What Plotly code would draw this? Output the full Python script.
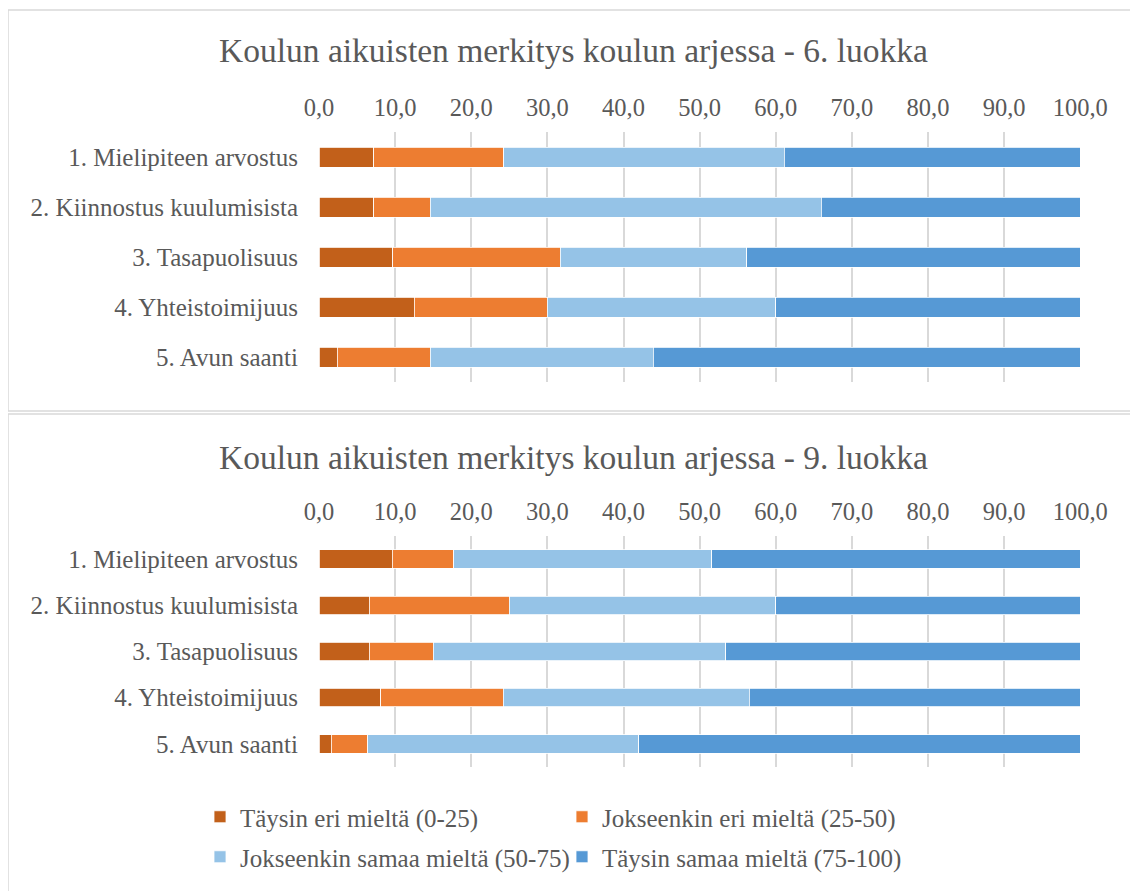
import plotly.graph_objects as go

W, H = 1138, 891

kategoriat = ["1. Mielipiteen arvostus", "2. Kiinnostus kuulumisista", "3. Tasapuolisuus",
              "4. Yhteistoimijuus", "5. Avun saanti"]
sarjat = ["Täysin eri mieltä (0-25)", "Jokseenkin eri mieltä (25-50)",
          "Jokseenkin samaa mieltä (50-75)", "Täysin samaa mieltä (75-100)"]
varit = ["#C2601A", "#ED7D31", "#95C3E7", "#5699D5"]

# 6. luokka
l6_taysin_eri = [7.2, 7.2, 9.7, 12.5, 2.4]
l6_jokseenkin_eri = [17.1, 7.4, 22.0, 17.5, 12.2]
l6_jokseenkin_samaa = [36.8, 51.4, 24.5, 30.0, 29.3]
l6_taysin_samaa = [38.9, 34.0, 43.8, 40.0, 56.1]

# 9. luokka
l9_taysin_eri = [9.6, 6.6, 6.6, 8.1, 1.6]
l9_jokseenkin_eri = [8.1, 18.4, 8.4, 16.1, 4.8]
l9_jokseenkin_samaa = [33.9, 35.0, 38.4, 32.3, 35.6]
l9_taysin_samaa = [48.4, 40.0, 46.6, 43.5, 58.0]

otsikot = ["Koulun aikuisten merkitys koulun arjessa - 6. luokka",
           "Koulun aikuisten merkitys koulun arjessa - 9. luokka"]

FONT = "Liberation Serif"
TXT = "#595959"
OFF = 8  # sivun oletusmarginaali siirtää kuvaa


def px_x(v):
    return (v - OFF) / W


def px_y(v):
    return 1 - (v - OFF) / H


fig = go.Figure()

for i, arvot in enumerate([l6_taysin_eri, l6_jokseenkin_eri, l6_jokseenkin_samaa, l6_taysin_samaa]):
    fig.add_trace(go.Bar(y=kategoriat, x=arvot, orientation="h", name=sarjat[i],
                         marker=dict(color=varit[i], line=dict(color="white", width=0.8)),
                         xaxis="x", yaxis="y", showlegend=False))

legendat = ["legend", "legend", "legend2", "legend2"]
for i, arvot in enumerate([l9_taysin_eri, l9_jokseenkin_eri, l9_jokseenkin_samaa, l9_taysin_samaa]):
    fig.add_trace(go.Bar(y=kategoriat, x=arvot, orientation="h", name=sarjat[i],
                         marker=dict(color=varit[i], line=dict(color="white", width=0.8)),
                         xaxis="x2", yaxis="y2", legend=legendat[i]))

xakseli = dict(range=[0, 100.1], dtick=10, tickformat=".1f", side="top",
               showgrid=True, gridcolor="#D9D9D9", gridwidth=1.5, zeroline=False,
               showline=False, ticks="", ticklabelstandoff=10, automargin=False,
               tickfont=dict(family=FONT, size=24.5, color=TXT),
               domain=[px_x(319), px_x(1081)], fixedrange=True)
yakseli = dict(type="category", autorange="reversed", showgrid=False, zeroline=False,
               showline=False, ticks="", ticklabelstandoff=20, automargin=False,
               tickfont=dict(family=FONT, size=25, color=TXT), fixedrange=True)

legend_yhteinen = dict(orientation="h", xanchor="left", yanchor="middle",
                       traceorder="normal",
                       font=dict(family=FONT, size=25, color=TXT),
                       entrywidth=317, entrywidthmode="pixels",
                       bgcolor="rgba(0,0,0,0)", itemclick=False)

fig.update_layout(
    template="none",
    width=W, height=H,
    margin=dict(l=0, r=0, t=0, b=0, autoexpand=False),
    paper_bgcolor="white", plot_bgcolor="white",
    barmode="stack", bargap=0.6,
    separators=", ",
    xaxis=dict(xakseli, anchor="y"),
    yaxis=dict(yakseli, anchor="x", domain=[px_y(382), px_y(132)]),
    xaxis2=dict(xakseli, anchor="y2"),
    yaxis2=dict(yakseli, anchor="x2", domain=[px_y(767), px_y(536)]),
    legend=dict(legend_yhteinen, x=px_x(200), y=px_y(817)),
    legend2=dict(legend_yhteinen, x=px_x(200), y=px_y(857)),
    annotations=[
        dict(text=otsikot[0], x=px_x(573), y=px_y(50), xref="paper", yref="paper",
             showarrow=False, xanchor="center", yanchor="middle",
             font=dict(family=FONT, size=33.5, color=TXT)),
        dict(text=otsikot[1], x=px_x(573), y=px_y(457), xref="paper", yref="paper",
             showarrow=False, xanchor="center", yanchor="middle",
             font=dict(family=FONT, size=33.5, color=TXT)),
    ],
    shapes=[
        dict(type="rect", xref="paper", yref="paper", x0=px_x(8), x1=px_x(1136),
             y0=px_y(411), y1=px_y(10), line=dict(color="#D9D9D9", width=1.5)),
        dict(type="rect", xref="paper", yref="paper", x0=px_x(8), x1=px_x(1136),
             y0=px_y(900), y1=px_y(414), line=dict(color="#D9D9D9", width=1.5)),
    ],
)

fig.write_html("out.html")
